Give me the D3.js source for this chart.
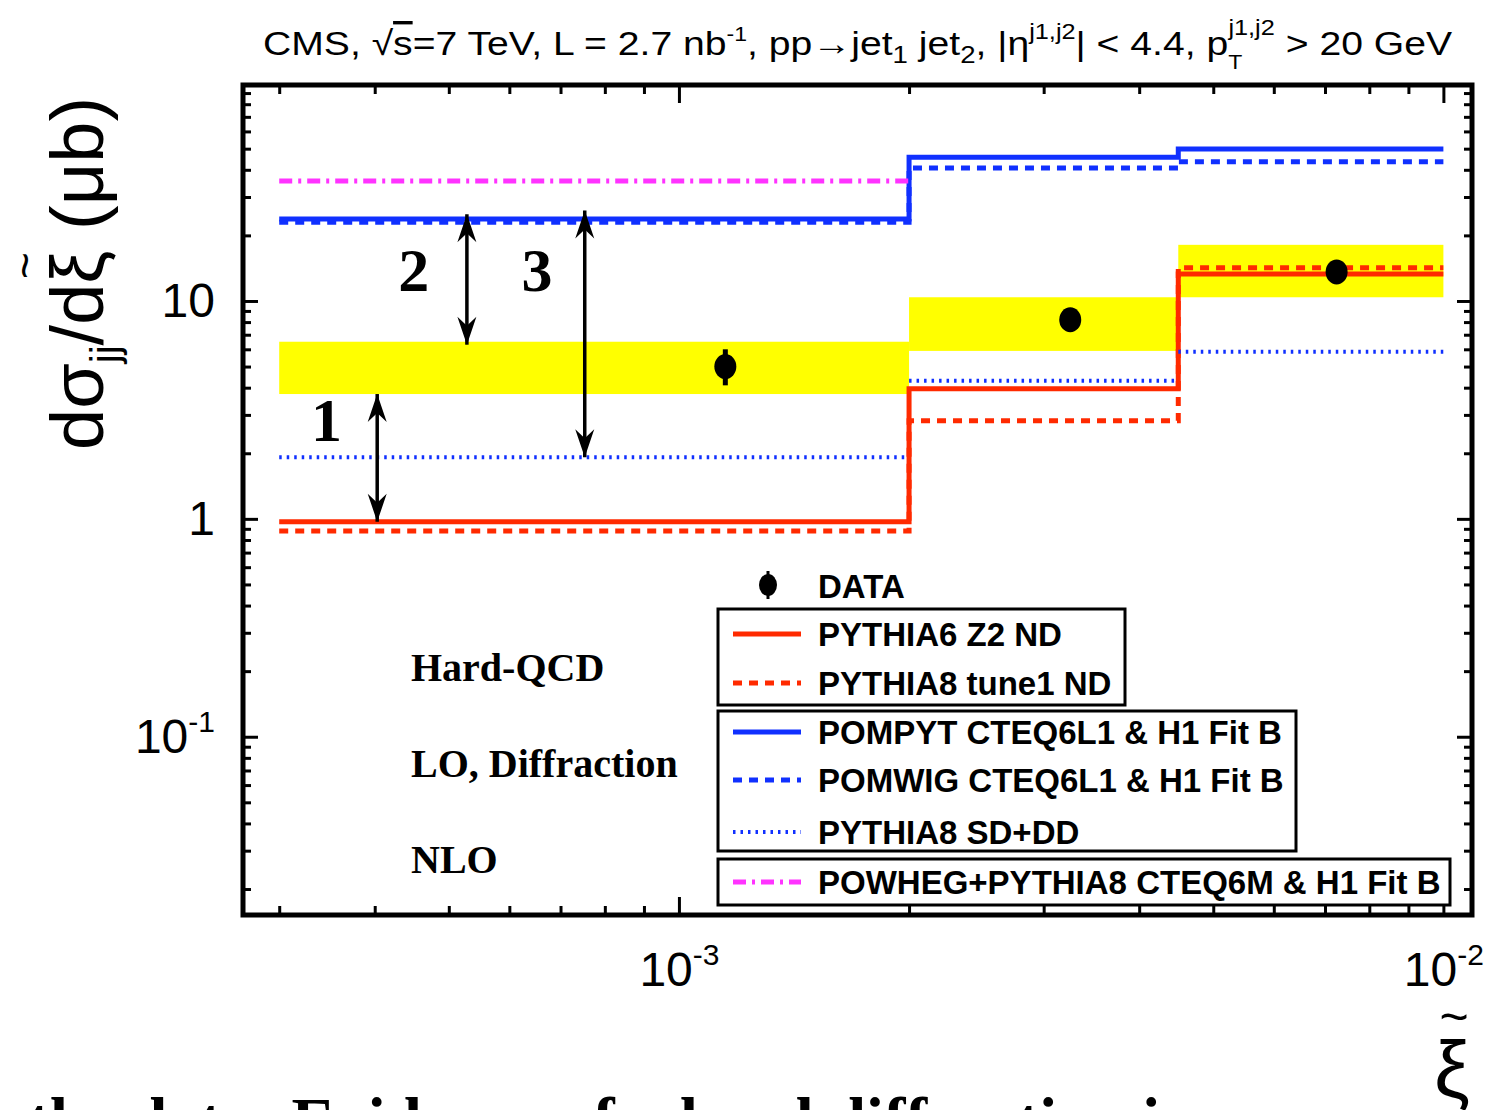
<!DOCTYPE html>
<html>
<head>
<meta charset="utf-8">
<script src="https://cdn.jsdelivr.net/npm/d3@7"></script>
<style>
  body { margin: 0; background: #fff; }
  text { font-family: "Liberation Sans", Arial, sans-serif; }
  .serif { font-family: "Liberation Serif", "Times New Roman", serif; font-weight: bold; }
</style>
</head>
<body>
<div id="canvas"></div>
<script>
// bin edges in xi~ and data per bin
const binEdges = [3e-4, 2e-3, 4.5e-3, 1e-2];
const dataXi = [1.15e-3, 3.25e-3, 7.25e-3];
const dataVal = [5.0, 8.2, 13.6];
const dataErrLo = [0.9, 0.5, 0.4];
const dataErrHi = [1.0, 0.5, 0.4];
const bandLo = [3.74, 5.9, 10.4];
const bandHi = [6.5, 10.4, 18.1];

const pythia6Z2 = [0.97, 3.95, 13.3];
const pythia8Tune1 = [0.88, 2.82, 14.2];
const pompyt = [23.8, 45.7, 49.8];
const pomwig = [23.0, 40.8, 43.5];
const pythia8SD = [1.92, 4.3, 5.84];
const powheg = [35.5];

// arrows "1", "2", "3"
const arrowLabels = ["1", "2", "3"];
const arrowXi = [4.03e-4, 5.28e-4, 7.53e-4];
const arrowTop = [3.74, 25.0, 26.0];
const arrowBottom = [0.97, 6.3, 1.92];
const arrowLabelXi = [3.46e-4, 4.5e-4, 6.52e-4];
const arrowLabelVal = [2.85, 13.9, 13.9];

const notes = ["Hard-QCD", "LO, Diffraction", "NLO"];

const W = 1487, H = 1110;
const svg = d3.select("#canvas").append("svg")
  .attr("width", W).attr("height", H);

const pLeft = 243, pRight = 1472, pTop = 85, pBottom = 915;

const x = d3.scaleLog().domain([2.69e-4, 1.09e-2]).range([pLeft, pRight]);
const y = d3.scaleLog().domain([0.0152, 98]).range([pBottom, pTop]);

const defs = svg.append("defs");
defs.append("marker")
  .attr("id", "head")
  .attr("viewBox", "-30 -11 32 22")
  .attr("refX", 0).attr("refY", 0)
  .attr("markerWidth", 32).attr("markerHeight", 22)
  .attr("markerUnits", "userSpaceOnUse")
  .attr("orient", "auto-start-reverse")
  .append("path")
  .attr("d", "M0,0 L-28,-9.5 L-19,0 L-28,9.5 Z")
  .attr("fill", "#000");

// yellow bands
svg.selectAll("rect.band")
  .data(bandLo)
  .enter().append("rect")
  .attr("class", "band")
  .attr("x", (d, i) => x(binEdges[i]))
  .attr("width", (d, i) => x(binEdges[i + 1]) - x(binEdges[i]))
  .attr("y", (d, i) => y(bandHi[i]))
  .attr("height", (d, i) => y(d) - y(bandHi[i]))
  .attr("fill", "#ffff00");

const stepLine = d3.line().x(d => x(d[0])).y(d => y(d[1])).curve(d3.curveStepAfter);
function stepPoints(vals) {
  const pts = vals.map((v, i) => [binEdges[i], v]);
  pts.push([binEdges[vals.length], vals[vals.length - 1]]);
  return pts;
}

const red = "#ff2a00", blue = "#1030ff", magenta = "#ff33ff";

const series = [
  { vals: pythia6Z2, color: red, dash: null, w: 5, step: true },
  { vals: pythia8Tune1, color: red, dash: "9,7", w: 5, step: true },
  { vals: pompyt, color: blue, dash: null, w: 5, step: true },
  { vals: pomwig, color: blue, dash: "9,7", w: 5, step: true },
  { vals: pythia8SD, color: blue, dash: "2.5,5", w: 4, step: false },
  { vals: powheg, color: magenta, dash: "13,6,3,6", w: 5, step: true }
];

series.forEach(s => {
  if (s.step) {
    svg.append("path")
      .attr("d", stepLine(stepPoints(s.vals)))
      .attr("fill", "none")
      .attr("stroke", s.color)
      .attr("stroke-width", s.w)
      .attr("stroke-dasharray", s.dash);
  } else {
    svg.selectAll(null)
      .data(s.vals)
      .enter().append("line")
      .attr("x1", (d, i) => x(binEdges[i]))
      .attr("x2", (d, i) => x(binEdges[i + 1]))
      .attr("y1", d => y(d)).attr("y2", d => y(d))
      .attr("stroke", s.color)
      .attr("stroke-width", s.w)
      .attr("stroke-dasharray", s.dash);
  }
});

// data points
svg.selectAll("line.err")
  .data(dataVal)
  .enter().append("line")
  .attr("x1", (d, i) => x(dataXi[i])).attr("x2", (d, i) => x(dataXi[i]))
  .attr("y1", (d, i) => y(d + dataErrHi[i]))
  .attr("y2", (d, i) => y(d - dataErrLo[i]))
  .attr("stroke", "#000").attr("stroke-width", 5);
svg.selectAll("ellipse.pt")
  .data(dataVal)
  .enter().append("ellipse")
  .attr("cx", (d, i) => x(dataXi[i]))
  .attr("cy", d => y(d))
  .attr("rx", 11).attr("ry", 12.5)
  .attr("fill", "#000");

// arrows
svg.selectAll("line.arrow")
  .data(arrowXi)
  .enter().append("line")
  .attr("x1", d => x(d)).attr("x2", d => x(d))
  .attr("y1", (d, i) => y(arrowTop[i]))
  .attr("y2", (d, i) => y(arrowBottom[i]))
  .attr("stroke", "#000").attr("stroke-width", 3.5)
  .attr("marker-start", "url(#head)")
  .attr("marker-end", "url(#head)");
svg.selectAll("text.alabel")
  .data(arrowLabels)
  .enter().append("text")
  .attr("class", "serif")
  .attr("x", (d, i) => x(arrowLabelXi[i]))
  .attr("y", (d, i) => y(arrowLabelVal[i]) + 21)
  .attr("text-anchor", "middle")
  .attr("font-size", 62)
  .text(d => d);

// notes on the left
svg.selectAll("text.note")
  .data(notes)
  .enter().append("text")
  .attr("class", "serif")
  .attr("x", 411)
  .attr("y", (d, i) => 681 + i * 96)
  .attr("font-size", 40)
  .text(d => d);

// axes: minor ticks then major ticks, all inward
function decorate(g) {
  g.select(".domain").remove();
  g.selectAll(".tick line").attr("stroke", "#000").attr("stroke-width", 3);
}
const isMajor = v => Math.abs(Math.log10(v) - Math.round(Math.log10(v))) < 1e-6;
const xTicks = x.ticks();
const yTicks = y.ticks();

svg.append("g").attr("transform", `translate(0,${pBottom})`)
  .call(d3.axisBottom(x).tickValues(xTicks.filter(v => !isMajor(v))).tickSize(-9).tickFormat(""))
  .call(decorate);
svg.append("g").attr("transform", `translate(0,${pTop})`)
  .call(d3.axisTop(x).tickValues(xTicks.filter(v => !isMajor(v))).tickSize(-9).tickFormat(""))
  .call(decorate);
svg.append("g").attr("transform", `translate(0,${pTop})`)
  .call(d3.axisTop(x).tickValues(xTicks.filter(isMajor)).tickSize(-18).tickFormat(""))
  .call(decorate);

const xMajor = svg.append("g").attr("transform", `translate(0,${pBottom})`)
  .call(d3.axisBottom(x).tickValues(xTicks.filter(isMajor)).tickSize(-18).tickPadding(37)
    .tickFormat(() => "10"))
  .call(decorate);
xMajor.selectAll(".tick text")
  .attr("fill", "#000").attr("font-size", 48)
  .attr("font-family", "Liberation Sans, Arial, sans-serif")
  .append("tspan")
  .attr("font-size", 30).attr("dy", "-0.7em")
  .text(d => "-" + Math.round(-Math.log10(d)));

svg.append("g").attr("transform", `translate(${pLeft},0)`)
  .call(d3.axisLeft(y).tickValues(yTicks.filter(v => !isMajor(v))).tickSize(-8).tickFormat(""))
  .call(decorate);
svg.append("g").attr("transform", `translate(${pRight},0)`)
  .call(d3.axisRight(y).tickValues(yTicks.filter(v => !isMajor(v))).tickSize(-8).tickFormat(""))
  .call(decorate);
svg.append("g").attr("transform", `translate(${pRight},0)`)
  .call(d3.axisRight(y).tickValues(yTicks.filter(isMajor)).tickSize(-15).tickFormat(""))
  .call(decorate);

const yLabelVals = [0.1, 1, 10];
const yMajor = svg.append("g").attr("transform", `translate(${pLeft},0)`)
  .call(d3.axisLeft(y).tickValues(yLabelVals).tickSize(-15).tickPadding(28)
    .tickFormat(d => d === 0.1 ? "10" : String(d)))
  .call(decorate);
yMajor.selectAll(".tick text")
  .attr("fill", "#000").attr("font-size", 48)
  .attr("font-family", "Liberation Sans, Arial, sans-serif")
  .filter(d => d === 0.1)
  .append("tspan")
  .attr("font-size", 30).attr("dy", "-0.7em")
  .text("-1");

// frame
svg.append("rect")
  .attr("x", pLeft).attr("y", pTop)
  .attr("width", pRight - pLeft).attr("height", pBottom - pTop)
  .attr("fill", "none").attr("stroke", "#000").attr("stroke-width", 5);

// legend
const legFont = 33;
const legTextX = 818;
const legendRows = [
  { label: "PYTHIA6 Z2 ND", color: red, dash: null, w: 5, y: 634 },
  { label: "PYTHIA8 tune1 ND", color: red, dash: "9,7", w: 5, y: 683 },
  { label: "POMPYT CTEQ6L1 & H1 Fit B", color: blue, dash: null, w: 5, y: 732 },
  { label: "POMWIG CTEQ6L1 & H1 Fit B", color: blue, dash: "9,7", w: 5, y: 780 },
  { label: "PYTHIA8 SD+DD", color: blue, dash: "2.5,5", w: 4, y: 832 },
  { label: "POWHEG+PYTHIA8 CTEQ6M & H1 Fit B", color: magenta, dash: "13,6,3,6", w: 5, y: 882 }
];
const legendBoxes = [
  { x0: 718, x1: 1125, y0: 609, y1: 705 },
  { x0: 718, x1: 1296, y0: 711, y1: 851 },
  { x0: 718, x1: 1450, y0: 859, y1: 905 }
];
svg.selectAll("rect.lbox")
  .data(legendBoxes)
  .enter().append("rect")
  .attr("x", d => d.x0).attr("y", d => d.y0)
  .attr("width", d => d.x1 - d.x0).attr("height", d => d.y1 - d.y0)
  .attr("fill", "#fff").attr("stroke", "#000").attr("stroke-width", 3);

const leg = svg.selectAll("g.leg")
  .data(legendRows)
  .enter().append("g");
leg.append("line")
  .attr("x1", 733).attr("x2", 801)
  .attr("y1", d => d.y).attr("y2", d => d.y)
  .attr("stroke", d => d.color)
  .attr("stroke-width", d => d.w)
  .attr("stroke-dasharray", d => d.dash);
leg.append("text")
  .attr("x", legTextX).attr("y", d => d.y + 12)
  .attr("font-size", legFont).attr("font-weight", "bold")
  .text(d => d.label);

// DATA entry
svg.append("line")
  .attr("x1", 768).attr("x2", 768).attr("y1", 571).attr("y2", 599)
  .attr("stroke", "#000").attr("stroke-width", 3);
svg.append("ellipse")
  .attr("cx", 768).attr("cy", 585).attr("rx", 9).attr("ry", 11).attr("fill", "#000");
svg.append("text")
  .attr("x", legTextX).attr("y", 598)
  .attr("font-size", legFont).attr("font-weight", "bold")
  .text("DATA");

// title
const title = svg.append("text")
  .attr("x", 263).attr("y", 55)
  .attr("font-size", 34)
  .attr("textLength", 1189).attr("lengthAdjust", "spacingAndGlyphs");
title.append("tspan").text("CMS,  \u221A");
title.append("tspan").attr("text-decoration", "overline").text("s");
title.append("tspan").text("=7 TeV, L = 2.7 nb");
title.append("tspan").attr("font-size", 20).attr("dy", -14).text("-1");
title.append("tspan").attr("dy", 14).text(", pp\u2192jet");
title.append("tspan").attr("font-size", 24).attr("dy", 8).text("1");
title.append("tspan").attr("dy", -8).text(" jet");
title.append("tspan").attr("font-size", 24).attr("dy", 8).text("2");
title.append("tspan").attr("dy", -8).text(",  |\u03B7");
title.append("tspan").attr("font-size", 22).attr("dy", -16).text("j1,j2");
title.append("tspan").attr("dy", 16).text("| < 4.4,  p");
title.append("tspan").attr("font-size", 20).attr("dy", 14).text("T");
title.append("tspan").attr("font-size", 22).attr("dx", -12).attr("dy", -34).text("j1,j2");
title.append("tspan").attr("dy", 20).text(" > 20 GeV");

// y-axis title, tilde over xi placed from the glyph position
const ytG = svg.append("g").attr("transform", "translate(103,450) rotate(-90)");
const yt = ytG.append("text").attr("font-size", 74);
yt.append("tspan").text("d\u03C3");
yt.append("tspan").attr("font-size", 40).attr("dy", 16).text("jj");
yt.append("tspan").attr("dy", -16).text("/d\u03BE (\u03BCb)");
const xiIdx = 6;
const xiStart = yt.node().getStartPositionOfChar(xiIdx);
const xiEnd = yt.node().getEndPositionOfChar(xiIdx);
yt.append("tspan")
  .attr("x", (xiStart.x + xiEnd.x) / 2 - 12)
  .attr("y", -62)
  .attr("font-size", 46)
  .text("~");

// x-axis title (cut at the bottom), tilde in the same text element
const xt = svg.append("text").attr("text-anchor", "middle");
xt.append("tspan").attr("x", 1452).attr("y", 1097).attr("font-size", 80).text("\u03BE");
xt.append("tspan").attr("x", 1454).attr("y", 1034).attr("font-size", 50).text("~");

// caption text cut at the bottom of the picture
svg.append("text")
  .attr("class", "serif")
  .attr("x", 28).attr("y", 1143)
  .attr("font-size", 65)
  .text("the data: Evidence of a hard diffraction in");
</script>
</body>
</html>
